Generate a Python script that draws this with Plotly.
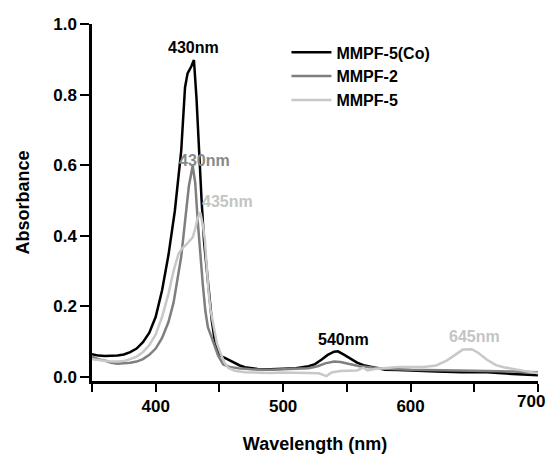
import plotly.graph_objects as go

# MMPF-5(Co) (black)
wl_co = [350, 355, 360, 365, 370, 375, 380, 385, 390, 395, 400, 405, 410, 415, 420, 423, 425, 428, 430,
         432, 434, 436, 438, 440, 442, 444, 446, 448, 450, 452, 455, 458, 462, 466, 470, 480, 490, 500,
         510, 520, 525, 530, 535, 540, 543, 548, 553, 558, 563, 570, 580, 590, 600, 620, 640, 660, 680, 700]
abs_co = [0.064, 0.060, 0.059, 0.059, 0.060, 0.063, 0.070, 0.080, 0.098, 0.125, 0.170, 0.245, 0.345, 0.470,
          0.640, 0.820, 0.860, 0.880, 0.898, 0.790, 0.630, 0.500, 0.380, 0.300, 0.220, 0.160, 0.110, 0.080,
          0.065, 0.057, 0.052, 0.047, 0.038, 0.032, 0.027, 0.022, 0.021, 0.022, 0.024, 0.030, 0.036, 0.048,
          0.062, 0.071, 0.072, 0.062, 0.050, 0.040, 0.033, 0.028, 0.020, 0.019, 0.017, 0.015, 0.013, 0.013,
          0.008, 0.004]

# MMPF-2 (mid grey)
wl_2 = [350, 355, 360, 365, 370, 375, 380, 385, 390, 395, 400, 405, 410, 414, 417, 420, 423, 426, 429,
        431, 433, 435, 437, 439, 441, 443, 446, 449, 453, 458, 465, 475, 490, 500, 510, 520, 527, 533,
        540, 545, 552, 560, 570, 580, 600, 620, 640, 660, 680, 700]
abs_2 = [0.057, 0.050, 0.046, 0.040, 0.037, 0.038, 0.040, 0.043, 0.050, 0.062, 0.080, 0.110, 0.155, 0.210,
         0.270, 0.340, 0.440, 0.540, 0.598, 0.550, 0.440, 0.340, 0.260, 0.185, 0.140, 0.120, 0.090, 0.060,
         0.035, 0.028, 0.024, 0.021, 0.020, 0.021, 0.021, 0.024, 0.030, 0.038, 0.043, 0.042, 0.036, 0.030,
         0.026, 0.023, 0.020, 0.018, 0.017, 0.016, 0.015, 0.013]

# MMPF-5 (light grey)
wl_5 = [350, 355, 360, 365, 370, 375, 380, 385, 390, 395, 400, 405, 410, 414, 418, 421, 424, 427, 429,
        431, 433, 435, 437, 438.5, 440, 441.5, 443, 445.5, 448, 451, 454, 457, 462, 470, 480, 490, 500,
        510, 520, 528, 534, 538, 545, 552, 558, 563, 566, 572, 580, 590, 600, 610, 620, 628, 635, 641,
        648, 653, 660, 667, 673, 680, 690, 700]
abs_5 = [0.050, 0.047, 0.044, 0.043, 0.043, 0.045, 0.050, 0.057, 0.070, 0.090, 0.120, 0.170, 0.235, 0.300,
         0.350, 0.365, 0.375, 0.388, 0.395, 0.420, 0.450, 0.466, 0.430, 0.390, 0.300, 0.240, 0.190, 0.140,
         0.095, 0.065, 0.040, 0.025, 0.017, 0.013, 0.011, 0.011, 0.012, 0.012, 0.012, 0.010, 0.002, 0.012,
         0.016, 0.016, 0.018, 0.026, 0.018, 0.022, 0.025, 0.028, 0.028, 0.028, 0.032, 0.045, 0.062, 0.077,
         0.078, 0.068, 0.048, 0.033, 0.027, 0.022, 0.016, 0.010]

series_names = ["MMPF-5(Co)", "MMPF-2", "MMPF-5"]
series_colors = ["#000000", "#7f7f7f", "#c8c8c8"]

peak_labels = ["430nm", "430nm", "435nm", "540nm", "645nm"]
peak_x = [429.3, 437.9, 456.7, 547.0, 650.2]
peak_y = [0.932, 0.614, 0.498, 0.107, 0.115]
peak_colors = ["#000000", "#888888", "#c4c4c4", "#000000", "#c4c4c4"]

x_tickvals = [350, 400, 450, 500, 550, 600, 650, 700]
# last label ("700") is drawn as an annotation so it stays inside the visible page
x_ticktext = ["", "400", "", "500", "", "600", "", ""]
last_x_label = "700"
y_tickvals = [0.0, 0.2, 0.4, 0.6, 0.8, 1.0]

FONT = "Liberation Sans, Arial, Helvetica, sans-serif"

fig = go.Figure()
for wl, ab, name, col in zip([wl_co, wl_2, wl_5], [abs_co, abs_2, abs_5], series_names, series_colors):
    fig.add_trace(go.Scatter(x=wl, y=ab, mode="lines", name=name,
                             line=dict(color=col, width=2.5)))

for txt, px, py, col in zip(peak_labels, peak_x, peak_y, peak_colors):
    fig.add_annotation(x=px, y=py, xref="x", yref="y", text=txt, showarrow=False,
                       font=dict(family=FONT, size=16, color=col, weight="bold"))

fig.add_annotation(x=x_tickvals[-1], y=-0.058, xref="x", yref="paper", text=last_x_label,
                   showarrow=False, xanchor="right", yanchor="middle", xshift=9,
                   font=dict(family=FONT, size=17, color="black", weight="bold"))

fig.update_layout(
    width=547, height=446,
    margin=dict(l=84, r=17, t=16, b=73, autoexpand=False),
    paper_bgcolor="white", plot_bgcolor="white",
    font=dict(family=FONT, color="black", weight="bold"),
    showlegend=True,
    legend=dict(x=0.436, y=0.968, xanchor="left", yanchor="top",
                bgcolor="rgba(0,0,0,0)", itemwidth=40, tracegroupgap=0,
                font=dict(family=FONT, size=16, color="black", weight="bold")),
    xaxis=dict(range=[350, 700], tickvals=x_tickvals, ticktext=x_ticktext,
               showline=True, linecolor="black", linewidth=2.5, mirror=False,
               ticks="outside", ticklen=8, tickwidth=2, tickcolor="black",
               showgrid=False, zeroline=False, automargin=False,
               tickfont=dict(family=FONT, size=17, color="black", weight="bold"),
               title=dict(text="Wavelength (nm)", standoff=34,
                          font=dict(family=FONT, size=18, color="black", weight="bold"))),
    yaxis=dict(range=[-0.012, 1.0], tickvals=y_tickvals, tickformat=".1f",
               showline=True, linecolor="black", linewidth=2.5, mirror=False,
               ticks="outside", ticklen=9, tickwidth=2, tickcolor="black",
               showgrid=False, zeroline=False, automargin=False,
               tickfont=dict(family=FONT, size=17, color="black", weight="bold"),
               title=dict(text="Absorbance", standoff=19,
                          font=dict(family=FONT, size=18, color="black", weight="bold"))),
)

fig.write_html("out.html")
